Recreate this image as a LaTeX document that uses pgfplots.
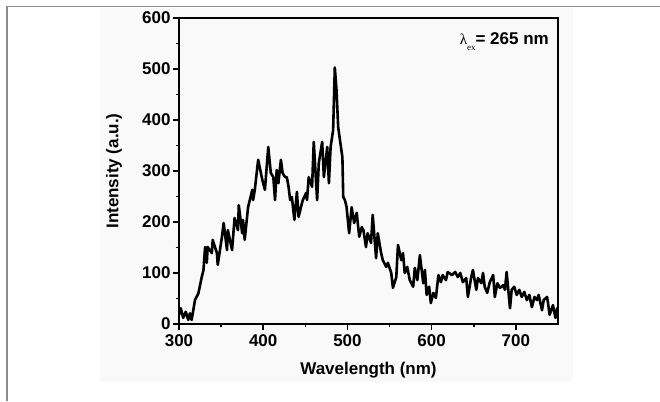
\documentclass[border=0pt]{standalone}
\usepackage{fontspec}
\setmainfont{Liberation Sans}
\newfontfamily\seriffont{Liberation Serif}
\usepackage{pgfplots}
\pgfplotsset{compat=1.18}
\definecolor{panelgray}{RGB}{249,249,249}
\definecolor{framegray}{RGB}{140,140,140}

\begin{document}
\begin{tikzpicture}
\useasboundingbox (0pt,0pt) rectangle (660pt,401pt);
\fill[panelgray] (100pt,19pt) rectangle (573pt,393pt);
\draw[framegray, line width=1.5pt] (7pt,0pt) -- (7pt,394.5pt) -- (660pt,394.5pt);

\begin{axis}[
    at={(179pt,77pt)}, anchor=south west,
    scale only axis,
    width=379pt, height=306pt,
    xmin=300, xmax=750,
    ymin=0, ymax=600,
    xtick={300,400,...,700},
    ytick={0,100,...,600},
    minor x tick num=1,
    minor y tick num=1,
    tick align=outside,
    tick pos=left,
    major tick length=6pt,
    minor tick length=3.5pt,
    axis line style={line width=2pt},
    every tick/.style={black, line width=1.6pt},
    /pgf/number format/assume math mode=true,
    ticklabel style={font=\fontsize{17}{19}\selectfont\bfseries},
    xticklabel style={yshift=-1pt},
    yticklabel style={xshift=1pt},
    label style={font=\fontsize{17}{19}\selectfont\bfseries},
    xlabel={Wavelength (nm)},
    ylabel={Intensity (a.u.)},
    xlabel style={at={(axis description cs:0.5,-0.150)}, anchor=center},
    ylabel style={at={(axis description cs:-0.1715,0.5)}, anchor=center},
]
\addplot[black, line width=2.6pt, line join=round, mark=none] coordinates {
(300,18) (302,31) (305,12) (308,24) (311,8) (313,21) (315,8) (319,47)
(323,60) (327,92) (329,105) (331,151) (333,120) (334,151) (339,139) (340,165)
(345,139) (346,116) (351,171) (353,198) (357,145) (358,184) (363,145) (366,208)
(370,184) (371,233) (375,178) (376,204) (378,165) (382,229) (387,263) (388,243)
(390,263) (394,322) (399,282) (402,263) (406,347) (409,296) (412,288) (414,243)
(416,302) (418,276) (421,322) (423,296) (426,288) (428,288) (430,270) (432,243)
(434,249) (437,204) (440,259) (442,210) (446,237) (447,243) (451,257) (452,243)
(454,288) (458,269) (460,357) (464,243) (466,316) (470,357) (472,288) (476,347)
(478,276) (480,347) (483,380) (485,503) (487,459) (489,386) (490,374) (494,327)
(495,249) (497,243) (499,229) (502,178) (505,229) (508,198) (511,218) (514,171)
(517,190) (519,184) (522,151) (524,178) (528,159) (530,214) (534,129) (536,178)
(540,139) (542,125) (546,112) (548,120) (552,100) (554,71) (558,92) (560,155)
(564,125) (566,139) (568,100) (571,112) (574,86) (578,73) (580,110) (583,86)
(586,135) (590,80) (592,106) (594,57) (597,73) (599,41) (602,61) (605,51)
(608,96) (611,82) (613,96) (617,86) (619,102) (624,96) (628,102) (631,92)
(634,100) (637,82) (641,90) (643,53) (647,92) (649,106) (653,67) (655,90)
(659,80) (661,100) (663,73) (666,61) (669,82) (673,96) (675,53) (678,80)
(681,71) (685,76) (687,67) (689,102) (693,31) (695,67) (698,73) (701,57)
(704,67) (707,53) (710,63) (713,47) (716,57) (719,33) (722,53) (725,47)
(727,57) (731,27) (733,47) (737,53) (738,43) (740,18) (744,37) (747,12)
(749,31) (750,20)
};
\end{axis}

\node[anchor=east, inner sep=0pt] at (549pt,359pt)
  {{\fontsize{15}{18}\selectfont\seriffont λ}\raisebox{-1.1ex}{\fontsize{9}{10}\selectfont\seriffont ex}{\fontsize{17}{19}\selectfont\bfseries = 265 nm}};
\end{tikzpicture}
\end{document}
